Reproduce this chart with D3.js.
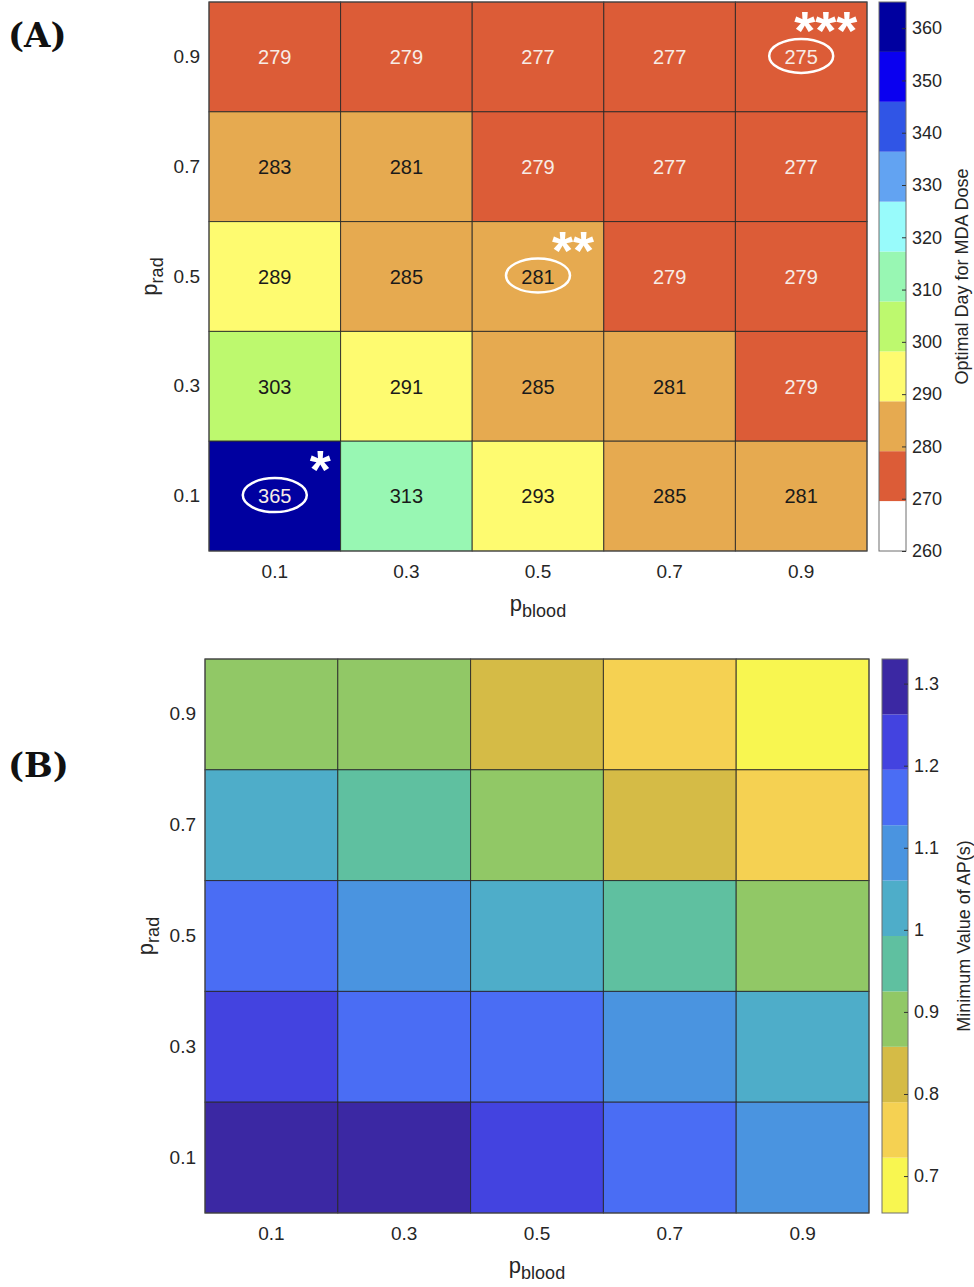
<!DOCTYPE html><html>
<head>
<meta charset="utf-8">
<style>
body { margin: 0; padding: 0; background: #ffffff; }
svg { display: block; }
text { font-family: "Liberation Sans", Arial, Helvetica, sans-serif; }
.tick text { fill: #262626; }
.panel-label { font-family: "DejaVu Serif", "Liberation Serif", serif; font-weight: bold; font-size: 34px; fill: #111; }
.cell { stroke: #262626; stroke-opacity: 0.85; stroke-width: 1px; }
.frame { fill: none; stroke: #4a4a4a; stroke-width: 1px; }
</style>
</head>
<body>
<svg id="fig" width="974" height="1287"></svg>
<script src="https://cdn.jsdelivr.net/npm/d3@7"></script>
<script>
// axis categories
var pBlood = ["0.1", "0.3", "0.5", "0.7", "0.9"];
var pRad = ["0.9", "0.7", "0.5", "0.3", "0.1"];   // top to bottom

// (A) optimal day for MDA dose, rows follow pRad
var optimalDay = [
    [279, 279, 277, 277, 275],
    [283, 281, 279, 277, 277],
    [289, 285, 281, 279, 279],
    [303, 291, 285, 281, 279],
    [365, 313, 293, 285, 281]
];

// (B) minimum value of AP(s)
var minAP = [
    [0.89, 0.88, 0.82, 0.76, 0.69],
    [1.02, 0.96, 0.90, 0.83, 0.76],
    [1.16, 1.09, 1.03, 0.96, 0.89],
    [1.23, 1.16, 1.14, 1.09, 1.03],
    [1.31, 1.30, 1.22, 1.15, 1.10]
];

var domainA = [260, 365];
var colorsA = ["#ffffff", "#dc5c37", "#e6aa50", "#fefb70", "#bdf96e", "#98f7b3",
               "#98fbfb", "#62a3f2", "#3055e6", "#0a00f0", "#0000a0"];
var ticksA = [260, 270, 280, 290, 300, 310, 320, 330, 340, 350, 360];

var domainB = [0.655, 1.33];
var colorsB = ["#f8f650", "#f5d152", "#d5bb46", "#91c866", "#5fc0a0",
               "#4eadc9", "#4a94e0", "#4a6df4", "#4343e0", "#3b28a3"];
var ticksB = [0.7, 0.8, 0.9, 1.0, 1.1, 1.2, 1.3];

// highlighted cells in (A)
var marked = [
    {blood: "0.1", rad: "0.1", stars: "*"},
    {blood: "0.5", rad: "0.5", stars: "**"},
    {blood: "0.9", rad: "0.9", stars: "***"}
];

var svg = d3.select("#fig");

function drawPanel(opt) {
    var g = svg.append("g");
    var x = d3.scaleBand().domain(pBlood).range([opt.left, opt.right]);
    var y = d3.scaleBand().domain(pRad).range([opt.top, opt.bottom]);
    var color = d3.scaleQuantize().domain(opt.domain).range(opt.colors);

    var cells = [];
    opt.values.forEach(function(row, i) {
        row.forEach(function(v, j) {
            cells.push({rad: pRad[i], blood: pBlood[j], v: v});
        });
    });

    g.selectAll("rect.cell").data(cells).enter().append("rect")
        .attr("class", "cell")
        .attr("x", d => x(d.blood))
        .attr("y", d => y(d.rad))
        .attr("width", x.bandwidth())
        .attr("height", y.bandwidth())
        .attr("fill", d => color(d.v));

    g.append("rect").attr("class", "frame")
        .attr("x", opt.left).attr("y", opt.top)
        .attr("width", opt.right - opt.left).attr("height", opt.bottom - opt.top);

    if (opt.labels) {
        g.selectAll("text.val").data(cells).enter().append("text")
            .attr("class", "val")
            .attr("x", d => x(d.blood) + x.bandwidth() / 2)
            .attr("y", d => y(d.rad) + y.bandwidth() / 2)
            .attr("dy", "0.36em")
            .attr("text-anchor", "middle")
            .style("font-size", "20px")
            .attr("fill", d => opt.darkText(d.v) ? "#1a1a1a" : "#f7ece6")
            .text(d => d.v);
    }

    // axes
    var ya = g.append("g").attr("transform", "translate(" + opt.left + ",0)")
        .call(d3.axisLeft(y).tickSize(0).tickPadding(9));
    var xa = g.append("g").attr("transform", "translate(0," + opt.bottom + ")")
        .call(d3.axisBottom(x).tickSize(0).tickPadding(14));
    [ya, xa].forEach(function(a) {
        a.select(".domain").remove();
        a.selectAll("text").style("font-size", "19px").attr("font-family", null);
    });

    var xl = g.append("text")
        .attr("x", (opt.left + opt.right) / 2)
        .attr("y", opt.bottom + 60)
        .attr("text-anchor", "middle")
        .style("font-size", "22px").attr("fill", "#262626");
    xl.append("tspan").text("p");
    xl.append("tspan").attr("dy", 6).style("font-size", "18px").text("blood");

    var yl = g.append("text")
        .attr("transform", "translate(" + (opt.left - 52) + "," + ((opt.top + opt.bottom) / 2) + ") rotate(-90)")
        .attr("text-anchor", "middle")
        .style("font-size", "22px").attr("fill", "#262626");
    yl.append("tspan").text("p");
    yl.append("tspan").attr("dy", 6).style("font-size", "18px").text("rad");

    // colour bar
    var cb = d3.scaleLinear().domain(opt.domain).range([opt.bottom, opt.top]);
    var edges = [opt.domain[0]].concat(color.thresholds(), [opt.domain[1]]);
    var bins = opt.colors.map((c, i) => ({c: c, lo: edges[i], hi: edges[i + 1]}));
    var cbg = g.append("g");
    cbg.selectAll("rect").data(bins).enter().append("rect")
        .attr("x", opt.cbX).attr("width", opt.cbW)
        .attr("y", d => cb(d.hi))
        .attr("height", d => cb(d.lo) - cb(d.hi))
        .attr("fill", d => d.c);
    cbg.append("rect").attr("class", "frame")
        .attr("x", opt.cbX).attr("y", cb(opt.domain[1]))
        .attr("width", opt.cbW).attr("height", cb(opt.domain[0]) - cb(opt.domain[1]))
        .style("stroke", "#6e6e6e");
    var ca = cbg.append("g").attr("transform", "translate(" + (opt.cbX + opt.cbW) + ",0)")
        .call(d3.axisRight(cb).tickValues(opt.ticks).tickSize(-4).tickPadding(6).tickFormat(opt.fmt));
    ca.select(".domain").remove();
    ca.selectAll("line").attr("stroke", "#333");
    ca.selectAll("text").style("font-size", "18px").attr("font-family", null);

    g.append("text")
        .attr("transform", "translate(" + (opt.cbX + opt.cbW + 62) + "," + ((opt.top + opt.bottom) / 2) + ") rotate(-90)")
        .attr("text-anchor", "middle")
        .style("font-size", "18px").attr("fill", "#262626")
        .text(opt.cbLabel);

    g.append("text").attr("class", "panel-label")
        .attr("x", 8).attr("y", opt.labelY).text(opt.panel);

    return {g: g, x: x, y: y};
}

var A = drawPanel({
    panel: "(A)", labelY: 47,
    left: 209, right: 867, top: 2, bottom: 551,
    values: optimalDay, domain: domainA, colors: colorsA, ticks: ticksA,
    fmt: d3.format("d"), labels: true,
    darkText: v => v >= 280 && v < 360,
    cbX: 879, cbW: 27,
    cbLabel: "Optimal Day for MDA Dose"
});

drawPanel({
    panel: "(B)", labelY: 777,
    left: 205, right: 869, top: 659, bottom: 1213,
    values: minAP, domain: domainB, colors: colorsB, ticks: ticksB,
    fmt: d => d3.format("")(d), labels: false,
    cbX: 882, cbW: 26,
    cbLabel: "Minimum Value of AP(s)"
});

// ellipses and stars on the highlighted cells
var mk = A.g.selectAll("g.mark").data(marked).enter().append("g").attr("class", "mark")
    .attr("transform", d => "translate(" + (A.x(d.blood) + A.x.bandwidth() / 2) + "," + (A.y(d.rad) + A.y.bandwidth() / 2) + ")");
mk.append("ellipse").attr("cy", -1).attr("rx", 32).attr("ry", 17)
    .attr("fill", "none").attr("stroke", "#ffffff").attr("stroke-width", 2.5);
mk.append("text").attr("x", 56).attr("y", -8)
    .attr("text-anchor", "end")
    .style("font-size", "54px").style("font-weight", "bold")
    .attr("fill", "#ffffff")
    .text(d => d.stars);
</script>
</body>
</html>
